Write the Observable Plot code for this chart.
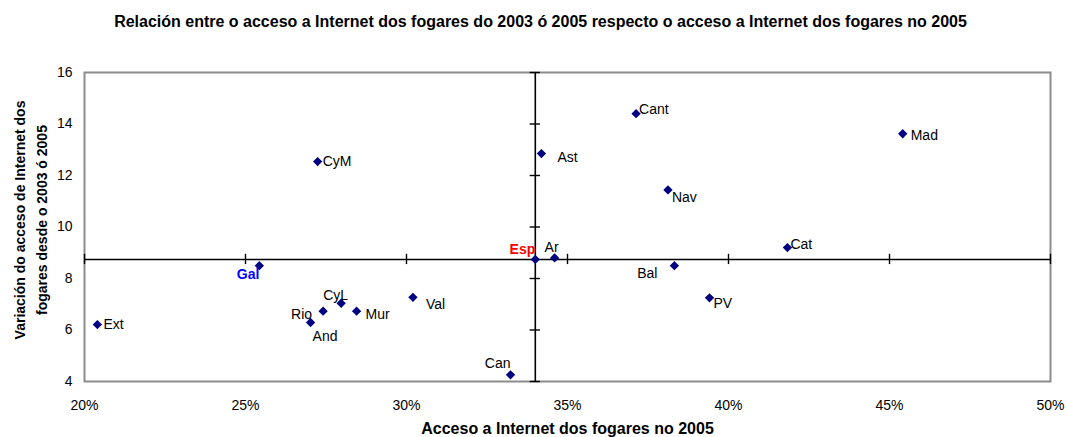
<!DOCTYPE html>
<html>
<head>
<meta charset="utf-8">
<script src="https://cdn.jsdelivr.net/npm/d3@7"></script>
<script src="https://cdn.jsdelivr.net/npm/@observablehq/plot@0.6"></script>
<style>
  html, body { margin: 0; padding: 0; background: #fff; }
  #chart { width: 1067px; height: 437px; }
</style>
</head>
<body>
<div id="chart"></div>
<script>
// ---- data ----
const regions    = ["Ext","Gal","CyM","Rio","And","CyL","Mur","Val","Can","Esp","Ar","Ast","Cant","Mad","Nav","Cat","Bal","PV"];
const access2005 = [0.2040,0.2543,0.2724,0.2741,0.2702,0.2797,0.2845,0.3020,0.3323,0.3400,0.3460,0.3419,0.3713,0.4541,0.3812,0.4183,0.3832,0.3941];
const change0305 = [6.21,8.50,12.54,6.73,6.29,7.04,6.73,7.27,4.26,8.74,8.80,12.85,14.40,13.62,11.44,9.20,8.50,7.25];
const xTicks = [0.20,0.25,0.30,0.35,0.40,0.45,0.50];
const yTicks = [4,6,8,10,12,14,16];
const crossX = 0.34;   // Spain (Esp) access
const crossY = 8.74;   // Spain (Esp) change

const title  = "Relación entre o acceso a Internet dos fogares do 2003 ó 2005 respecto o acceso a Internet dos fogares no 2005";
const xLabel = "Acceso a Internet dos fogares no 2005";
const yLabel = "Variación do acceso de Internet dos\nfogares desde o 2003 ó 2005";

// label placement (style): [textAnchor, dx, dy]
const labelPlace = {
  Ext:["start",6,0], Gal:["end",0,9], CyM:["start",5,0], Rio:["end",-11,3],
  And:["start",2,14], CyL:["start",-18,-8], Mur:["start",9,3], Val:["start",13,7],
  Can:["end",0,-11], Esp:["end",0,-10], Ar:["start",-10,-10], Ast:["start",16,4],
  Cant:["start",3,-4], Mad:["start",8,2], Nav:["start",4,8], Cat:["start",3,-3],
  Bal:["end",-17,8], PV:["start",4,6]
};
const labelStyle = {
  Esp:{fill:"#FF0000", fontWeight:"bold"},
  Gal:{fill:"#0000FF", fontWeight:"bold"}
};

const data = regions.map((r,i) => ({region:r, x:access2005[i], y:change0305[i]}));

const labelMarks = data.map(d => {
  const [anchor, dx, dy] = labelPlace[d.region];
  const st = labelStyle[d.region] || {fill:"#000", fontWeight:"normal"};
  return Plot.text([d], {x:"x", y:"y", text:"region", textAnchor:anchor, dx, dy,
    fill: st.fill, fontWeight: st.fontWeight, fontSize: 14});
});

const chart = Plot.plot({
  width: 1067,
  height: 437,
  marginTop: 72,
  marginBottom: 56,
  marginLeft: 84,
  marginRight: 17,
  style: {fontFamily: "'Liberation Sans', Arial, sans-serif", fontSize: "14px", background: "#fff", color: "#000"},
  x: {domain: [0.20, 0.50], ticks: xTicks, tickFormat: d3.format(".0%")},
  y: {domain: [4, 16], ticks: yTicks},
  marks: [
    Plot.frame({stroke: "#8c8c8c", strokeWidth: 2}),
    Plot.axisX({ticks: xTicks, tickFormat: d3.format(".0%"), tickSize: 0, tickPadding: 19, label: null, fontSize: 14}),
    Plot.axisY({ticks: yTicks, tickSize: 0, tickPadding: 12, label: null, fontSize: 14}),
    // crossing axes at Spain
    Plot.ruleX([crossX], {stroke: "#000", strokeWidth: 1.6}),
    Plot.ruleY([crossY], {stroke: "#000", strokeWidth: 1.6}),
    Plot.ruleX(xTicks, {x: d => d, y1: crossY - 0.2, y2: crossY + 0.2, stroke: "#000", strokeWidth: 1.4}),
    Plot.ruleY(yTicks, {y: d => d, x1: crossX - 0.0016, x2: crossX + 0.0016, stroke: "#000", strokeWidth: 1.4}),
    Plot.dot(data, {x: "x", y: "y", symbol: "diamond2", r: 4.2, fill: "#000080", stroke: "none"}),
    ...labelMarks,
    // titles
    Plot.text([title], {text: d => d, frameAnchor: "top", lineAnchor: "middle", textAnchor: "middle", dy: -51, dx: -27, fontWeight: "bold", fontSize: 16}),
    Plot.text([xLabel], {text: d => d, frameAnchor: "bottom", lineAnchor: "middle", textAnchor: "middle", dy: 47, fontWeight: "bold", fontSize: 16}),
    Plot.text([yLabel], {text: d => d, frameAnchor: "left", lineAnchor: "middle", textAnchor: "middle", rotate: -90, dx: -56, dy: -7, fontWeight: "bold", fontSize: 14, lineHeight: 1.57})
  ]
});

document.getElementById("chart").appendChild(chart);
</script>
</body>
</html>
